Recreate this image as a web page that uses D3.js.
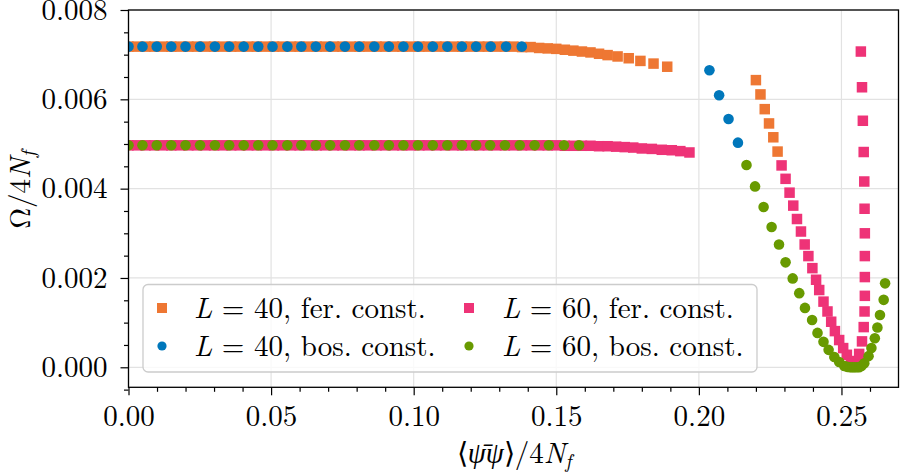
<!DOCTYPE html>
<html>
<head>
<meta charset="utf-8">
<script src="https://cdn.jsdelivr.net/npm/d3@7"></script>
<style>
  body { margin: 0; background: #fff; }
</style>
</head>
<body>
<svg id="chart" width="900" height="475"></svg>
<script>
// Datos: x = <psibar psi>/4Nf, y = Omega/4Nf

// L = 40, fer. const. (cuadrados naranjas)
const fer40X = [0.000,0.003,0.006,0.009,0.012,0.015,0.018,0.021,0.024,0.027,
  0.030,0.033,0.036,0.039,0.042,0.045,0.048,0.051,0.054,0.057,
  0.060,0.063,0.066,0.069,0.072,0.075,0.078,0.081,0.084,0.087,
  0.090,0.093,0.096,0.099,0.102,0.105,0.108,0.111,0.114,0.117,
  0.120,0.123,0.126,0.129,0.132,0.135,0.138,0.141,0.144,0.147,
  0.150,0.153,0.156,0.159,0.162,0.165,0.168,0.1715,0.1754,0.1795,
  0.1841,0.1889,
  0.2200,0.2216,0.2231,0.2246,0.2261,0.2276];
const fer40Y = [0.00718,0.00718,0.00718,0.00718,0.00718,0.00718,0.00718,0.00718,0.00718,0.00718,
  0.00718,0.00718,0.00718,0.00718,0.00718,0.00718,0.00718,0.00718,0.00718,0.00718,
  0.00718,0.00718,0.00718,0.00718,0.00718,0.00718,0.00718,0.00718,0.00718,0.00718,
  0.00718,0.00718,0.00718,0.00718,0.00718,0.00718,0.00718,0.00718,0.00718,0.00718,
  0.00718,0.00718,0.00718,0.00718,0.00718,0.00718,0.00717,0.00717,0.00715,0.00714,
  0.00713,0.00711,0.00709,0.00707,0.00705,0.00702,0.00699,0.00696,0.00692,0.00686,
  0.00680,0.00673,
  0.00643,0.00611,0.00578,0.00546,0.00515,0.00483];

// L = 40, bos. const. (círculos azules)
const bos40X = [0.0000,0.0049,0.0099,0.0150,0.0200,0.0251,0.0303,0.0353,0.0404,0.0455,
  0.0505,0.0557,0.0606,0.0657,0.0707,0.0759,0.0809,0.0862,0.0913,0.0964,
  0.1015,0.1067,0.1118,0.1169,0.1219,0.1270,0.1324,0.1379,
  0.2037,0.2071,0.2104,0.2137];
const bos40Y = [0.00718,0.00718,0.00718,0.00718,0.00718,0.00718,0.00718,0.00718,0.00718,0.00718,
  0.00718,0.00718,0.00718,0.00718,0.00718,0.00718,0.00718,0.00718,0.00718,0.00718,
  0.00718,0.00718,0.00718,0.00718,0.00718,0.00718,0.00718,0.00718,
  0.00665,0.00609,0.00556,0.00503];

// L = 60, fer. const. (cuadrados magenta)
const fer60X = [0.000,0.003,0.006,0.009,0.012,0.015,0.018,0.021,0.024,0.027,
  0.030,0.033,0.036,0.039,0.042,0.045,0.048,0.051,0.054,0.057,
  0.060,0.063,0.066,0.069,0.072,0.075,0.078,0.081,0.084,0.087,
  0.090,0.093,0.096,0.099,0.102,0.105,0.108,0.111,0.114,0.117,
  0.120,0.123,0.126,0.129,0.132,0.135,0.138,0.141,0.144,0.147,
  0.150,0.153,0.156,0.159,0.162,0.165,0.168,0.171,0.174,0.177,
  0.180,0.1835,0.1870,0.1905,0.1935,0.1967,
  0.2290,0.2304,0.2318,0.2331,0.2344,0.2358,0.2371,0.2384,0.2398,0.2411,
  0.2422,0.2437,0.2451,0.2464,0.2477,0.2492,0.2506,0.2519,0.2533,0.2541,0.2549,
  0.2556,0.2562,0.2572,0.2578,0.2581,0.2582,0.2582,0.2582,0.2582,0.2581,
  0.2580,0.2578,0.2575,0.2572,0.2568];
const fer60Y = [0.00497,0.00497,0.00497,0.00497,0.00497,0.00497,0.00497,0.00497,0.00497,0.00497,
  0.00497,0.00497,0.00497,0.00497,0.00497,0.00497,0.00497,0.00497,0.00497,0.00497,
  0.00497,0.00497,0.00497,0.00497,0.00497,0.00497,0.00497,0.00497,0.00497,0.00497,
  0.00497,0.00497,0.00497,0.00497,0.00497,0.00497,0.00497,0.00497,0.00497,0.00497,
  0.00497,0.00497,0.00497,0.00497,0.00497,0.00497,0.00497,0.00497,0.00497,0.00497,
  0.00497,0.00496,0.00496,0.00496,0.00496,0.00495,0.00495,0.00494,0.00493,0.00492,
  0.00490,0.00489,0.00487,0.00486,0.00484,0.00481,
  0.00452,0.00422,0.00391,0.00362,0.00332,0.00304,0.00275,0.00249,0.00222,0.00196,
  0.00173,0.00147,0.00125,0.00102,0.00081,0.00061,0.00043,0.00028,0.00014,0.00007,0.00002,
  0.00010,0.00030,0.00058,0.00090,0.00125,0.00160,0.00202,0.00249,0.00300,0.00355,
  0.00416,0.00482,0.00552,0.00627,0.00707];

// L = 60, bos. const. (círculos verdes)
const bos60X = [0.0000,0.0049,0.0099,0.0150,0.0200,0.0251,0.0303,0.0353,0.0404,0.0455,
  0.0505,0.0557,0.0606,0.0657,0.0707,0.0759,0.0809,0.0862,0.0913,0.0964,
  0.1015,0.1067,0.1118,0.1169,0.1219,0.1268,0.1320,0.1372,0.1424,0.1474,
  0.1527,0.1580,
  0.2167,0.2197,0.2227,0.2255,0.2281,0.2304,0.2329,0.2352,0.2372,0.2397,
  0.2416,0.2437,0.2455,0.2475,0.2492,0.2510,0.2520,0.2530,0.2538,0.2545,
  0.2553,0.2562,0.2570,0.2580,0.2595,0.2605,0.2617,0.2626,0.2635,0.2648,0.2653];
const bos60Y = [0.00497,0.00497,0.00497,0.00497,0.00497,0.00497,0.00497,0.00497,0.00497,0.00497,
  0.00497,0.00497,0.00497,0.00497,0.00497,0.00497,0.00497,0.00497,0.00497,0.00497,
  0.00497,0.00497,0.00497,0.00497,0.00497,0.00497,0.00497,0.00497,0.00497,0.00497,
  0.00497,0.00497,
  0.00453,0.00405,0.00359,0.00314,0.00275,0.00235,0.00199,0.00166,0.00133,0.00106,
  0.00077,0.00057,0.00039,0.00023,0.00012,0.00003,0.00001,0.00000,0.00000,0.00000,
  0.00000,0.00000,0.00003,0.00009,0.00025,0.00043,0.00065,0.00089,0.00117,0.00151,0.00188];

const xTicks = [0, 0.05, 0.10, 0.15, 0.20, 0.25];
const xMinor = [0.01,0.02,0.03,0.04,0.06,0.07,0.08,0.09,0.11,0.12,0.13,0.14,0.16,0.17,0.18,0.19,0.21,0.22,0.23,0.24,0.26];
const yTicks = [0, 0.002, 0.004, 0.006, 0.008];
const yMinor = [-0.0005,0.0005,0.001,0.0015,0.0025,0.003,0.0035,0.0045,0.005,0.0055,0.0065,0.007,0.0075];

const series = [
  {label: ['40', 'fer.'], xs: fer40X, ys: fer40Y, color: '#EE7733', shape: 'square'},
  {label: ['40', 'bos.'], xs: bos40X, ys: bos40Y, color: '#0077BB', shape: 'circle'},
  {label: ['60', 'fer.'], xs: fer60X, ys: fer60Y, color: '#EE3377', shape: 'square'},
  {label: ['60', 'bos.'], xs: bos60X, ys: bos60Y, color: '#689A00', shape: 'circle'}
];

const FONT = "'Latin Modern Roman'";
const svg = d3.select('#chart');
const pLeft = 128.5, pRight = 898.5, pTop = 10, pBottom = 387.3;

const x = d3.scaleLinear().domain([0, 0.27]).range([pLeft, pRight]);
const y = d3.scaleLinear().domain([-0.000448, 0.008]).range([pBottom, pTop]);

// Rejilla
svg.append('g').selectAll('line').data(xTicks).join('line')
  .attr('x1', d => x(d)).attr('x2', d => x(d))
  .attr('y1', pTop).attr('y2', pBottom)
  .attr('stroke', '#e2e2e2').attr('stroke-width', 1.2);
svg.append('g').selectAll('line').data(yTicks).join('line')
  .attr('x1', pLeft).attr('x2', pRight)
  .attr('y1', d => y(d)).attr('y2', d => y(d))
  .attr('stroke', '#e2e2e2').attr('stroke-width', 1.2);

// Recorte al área del gráfico
svg.append('clipPath').attr('id', 'plotclip')
  .append('rect').attr('x', pLeft).attr('y', pTop)
  .attr('width', pRight - pLeft).attr('height', pBottom - pTop);

const plot = svg.append('g').attr('clip-path', 'url(#plotclip)');
const sq = 10.5, rad = 5.3;

series.forEach(s => {
  const pts = s.xs.map((v, i) => [v, s.ys[i]]);
  const g = plot.append('g').attr('fill', s.color);
  if (s.shape === 'square') {
    g.selectAll('rect').data(pts).join('rect')
      .attr('x', d => x(d[0]) - sq / 2)
      .attr('y', d => y(d[1]) - sq / 2)
      .attr('width', sq).attr('height', sq);
  } else {
    g.selectAll('circle').data(pts).join('circle')
      .attr('cx', d => x(d[0]))
      .attr('cy', d => y(d[1]))
      .attr('r', rad);
  }
});

// Marco
svg.append('rect')
  .attr('x', pLeft).attr('y', pTop)
  .attr('width', pRight - pLeft).attr('height', pBottom - pTop)
  .attr('fill', 'none').attr('stroke', '#000').attr('stroke-width', 1.3);

// Ejes
svg.append('g').attr('transform', `translate(0,${pBottom})`)
  .call(d3.axisBottom(x).tickValues(xTicks).tickSize(8).tickPadding(10)
    .tickFormat(d3.format('.2f')));
svg.append('g').attr('transform', `translate(0,${pBottom})`)
  .call(d3.axisBottom(x).tickValues(xMinor).tickSize(4.5).tickFormat(''));
svg.append('g').attr('transform', `translate(${pLeft},0)`)
  .call(d3.axisLeft(y).tickValues(yTicks).tickSize(8).tickPadding(13)
    .tickFormat(d3.format('.3f')));
svg.append('g').attr('transform', `translate(${pLeft},0)`)
  .call(d3.axisLeft(y).tickValues(yMinor).tickSize(4.5).tickFormat(''));

svg.selectAll('.domain').remove();
svg.selectAll('.tick line').attr('stroke', '#000').attr('stroke-width', 1.2);
svg.selectAll('.tick text')
  .style('font-family', FONT).style('font-size', '29px').attr('fill', '#000');

// Etiqueta del eje x: <psibar psi>/4N_f
const xl = svg.append('text')
  .attr('x', 514).attr('y', 463)
  .attr('text-anchor', 'middle')
  .style('font-family', FONT).style('font-size', '29px');
xl.append('tspan').text('\u27E8');
xl.append('tspan').style('font-style', 'italic').text('\u03C8\u0304\u03C8');
xl.append('tspan').text('\u27E9/4');
xl.append('tspan').style('font-style', 'italic').text('N');
xl.append('tspan').style('font-style', 'italic').style('font-size', '20px').attr('dy', 5).text('f');

// Etiqueta del eje y: Omega/4N_f
const yl = svg.append('text')
  .attr('transform', 'translate(30,190) rotate(-90)')
  .attr('text-anchor', 'middle')
  .style('font-family', FONT).style('font-size', '29px');
yl.append('tspan').text('\u03A9/4');
yl.append('tspan').style('font-style', 'italic').text('N');
yl.append('tspan').style('font-style', 'italic').style('font-size', '20px').attr('dy', 5).text('f');

// Leyenda
const leg = svg.append('g');
leg.append('rect')
  .attr('x', 143).attr('y', 284.5).attr('width', 614).attr('height', 87.5)
  .attr('rx', 5).attr('fill', '#fff').attr('fill-opacity', 0.8)
  .attr('stroke', '#cccccc').attr('stroke-width', 1.3);

const legPos = [[162, 194, 308], [162, 194, 346], [469, 502, 308], [469, 502, 346]];
series.forEach((s, i) => {
  const [mx, tx, ty] = legPos[i];
  if (s.shape === 'square') {
    leg.append('rect').attr('x', mx - 5).attr('y', ty - 5)
      .attr('width', 10).attr('height', 10).attr('fill', s.color);
  } else {
    leg.append('circle').attr('cx', mx).attr('cy', ty).attr('r', 4.6).attr('fill', s.color);
  }
  const t = leg.append('text').attr('x', tx).attr('y', ty + 10)
    .style('font-family', FONT).style('font-size', '29px');
  t.append('tspan').style('font-style', 'italic').text('L');
  t.append('tspan').text(` = ${s.label[0]}, ${s.label[1]} const.`);
});
</script>
</body>
</html>
